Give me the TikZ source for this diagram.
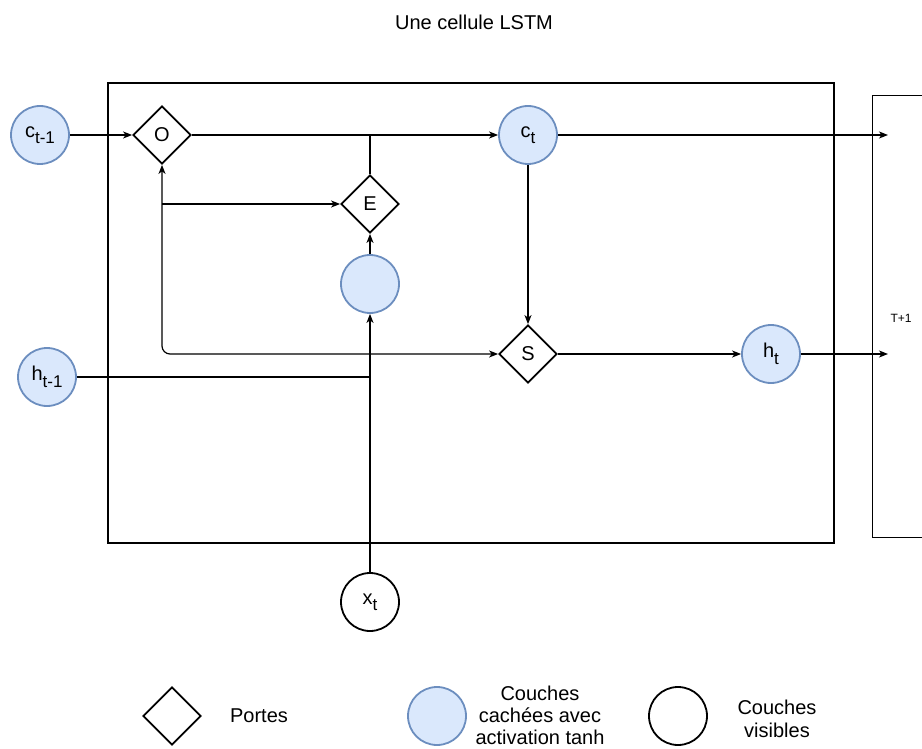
\documentclass[tikz,border=0pt]{standalone}
\usepackage{fontspec}
\setmainfont{Liberation Sans}
\usetikzlibrary{shapes.geometric,arrows.meta}
\definecolor{hidfill}{HTML}{DAE8FC}
\definecolor{hiddraw}{HTML}{6C8EBF}
\newcommand\mysub[1]{\raisebox{-0.32em}{\fontsize{17}{17}\selectfont #1}}
\begin{document}
\begin{tikzpicture}[x=1pt,y=-1pt,
  font=\fontsize{20}{23}\selectfont,
  hidden/.style={circle,draw=hiddraw,fill=hidfill,line width=1.8pt,minimum size=58pt,inner sep=0pt},
  visible/.style={circle,draw=black,fill=white,line width=1.8pt,minimum size=58pt,inner sep=0pt},
  gate/.style={diamond,draw=black,fill=white,line width=1.8pt,minimum width=58pt,minimum height=58pt,inner sep=0pt},
  conn/.style={line width=1.2pt},
  arr/.style={conn,-{Stealth[length=9pt,width=7pt,inset=2.5pt]}},
  every node/.style={text=black}]
\useasboundingbox (0,0) rectangle (922,749);
\clip (0,0) rectangle (922,749);

% title
\node (title) at (474,22) {Une cellule LSTM};

% frames
\draw[line width=2pt] (108,83) rectangle (834,543);
\draw[line width=0.9pt] (930,95) -- (872,95) -- (872,537) -- (930,537);
\node[font=\fontsize{12}{14}\selectfont] (tp1) at (901,318) {T+1};

% nodes
\node[hidden] (ct1) at (40,135) {c\mysub{t-1}};
\node[gate] (O) at (162,135) {O};
\node[hidden] (ct) at (528,135) {c\mysub{t}};
\node[gate] (E) at (370,204) {E};
\node[hidden] (hid) at (370,284) {};
\node[gate] (S) at (528,354) {S};
\node[hidden] (ht) at (771,354) {h\mysub{t}};
\node[hidden] (ht1) at (47,377) {h\mysub{t-1}};
\node[visible] (xt) at (370,602) {x\mysub{t}};

\coordinate (out1) at (888,135);
\coordinate (out2) at (888,354);
\coordinate (b1) at (O.south |- E.west);
\coordinate (j1) at (E.north |- O.east);
\coordinate (j2) at (xt.north |- ht1.east);

% connectors
\draw[arr] (ct1) -- (O);
\draw[arr] (O.east) -- (ct.west);
\draw[conn] (E.north) -- (j1);
\draw[arr] (hid.north) -- (E.south);
\draw[conn,{Stealth[length=9pt,width=7pt,inset=2.5pt]}-{Stealth[length=9pt,width=7pt,inset=2.5pt]},rounded corners=8pt] (O.south) |- (S.west);
\draw[arr] (b1) -- (E.west);
\draw[conn] (ht1.east) -- (j2);
\draw[arr] (xt.north) -- (hid.south);
\draw[arr] (ct.south) -- (S.north);
\draw[arr] (S.east) -- (ht.west);
\draw[arr] (ct.east) -- (out1);
\draw[arr] (ht.east) -- (out2);

% legend
\node[gate] (lg1) at (172,716) {};
\node (lt1) at (259,716) {Portes};
\node[hidden] (lg2) at (437,716) {};
\node[align=center,font=\fontsize{20}{22}\selectfont] (lt2) at (540,715) {Couches\\cachées avec\\activation tanh};
\node[visible] (lg3) at (678,716) {};
\node[align=center] (lt3) at (777,719) {Couches\\visibles};
\end{tikzpicture}
\end{document}
